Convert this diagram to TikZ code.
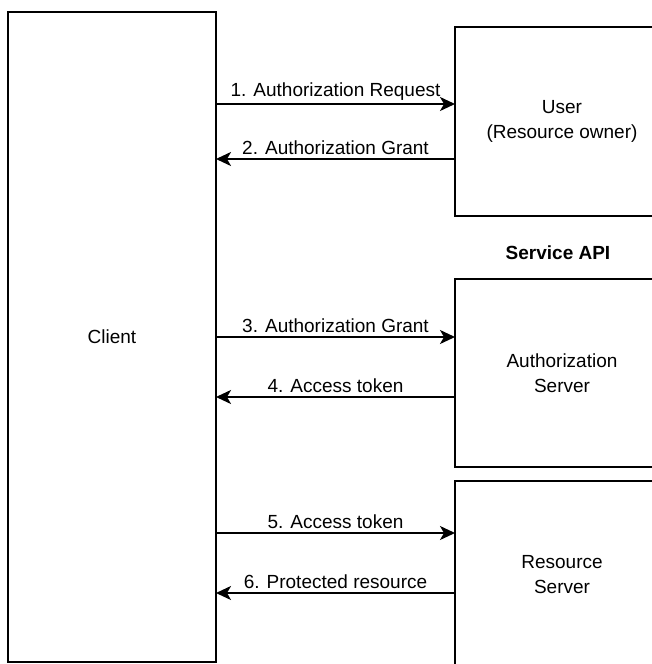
\documentclass[tikz,border=0pt]{standalone}
\usepackage{fontspec}
\setmainfont{Liberation Sans}
\usetikzlibrary{positioning,calc,arrows.meta}
\tikzset{party/.style={draw,line width=1.8pt,inner sep=0pt,outer sep=0pt,align=center}}
\tikzset{flow/.style={line width=2pt,-{Stealth[length=15pt,width=14pt,inset=4pt]}}}
\tikzset{msg/.style={above,inner sep=2pt,yshift=1pt}}

\begin{document}
\begin{tikzpicture}[x=1pt,y=-1pt,font=\fontsize{19}{25}\selectfont]
		\useasboundingbox (0,0) rectangle (652,664);
		\clip (0,0) rectangle (652,664);
		\node[party,minimum width=208pt,minimum height=650pt] (client) at (112,337) {Client};
			\node[party,minimum width=214pt,minimum height=189pt] (user) at (562,121.5) {User\\(Resource owner)};
			\node[party,minimum width=214pt,minimum height=188pt] (auth) at (562,373) {Authorization\\Server};
			\node[party,minimum width=214pt,minimum height=188pt] (res) at (562,575) {Resource\\Server};
			\node[font=\fontsize{19}{25}\selectfont\bfseries] (api) at (558,253) {Service API};

			\coordinate (r1) at (0,104);
			\coordinate (r2) at (0,159);
			\coordinate (r3) at (0,337);
			\coordinate (r4) at (0,397);
			\coordinate (r5) at (0,533);
			\coordinate (r6) at (0,593);

			\draw[flow] (client.east |- r1) -- node[msg] {1. Authorization Request} (user.west |- r1);
			\draw[flow] (user.west |- r2) -- node[msg] {2. Authorization Grant} (client.east |- r2);
			\draw[flow] (client.east |- r3) -- node[msg] {3. Authorization Grant} (auth.west |- r3);
			\draw[flow] (auth.west |- r4) -- node[msg] {4. Access token} (client.east |- r4);
			\draw[flow] (client.east |- r5) -- node[msg] {5. Access token} (res.west |- r5);
			\draw[flow] (res.west |- r6) -- node[msg] {6. Protected resource} (client.east |- r6);
	\end{tikzpicture}
\end{document}
